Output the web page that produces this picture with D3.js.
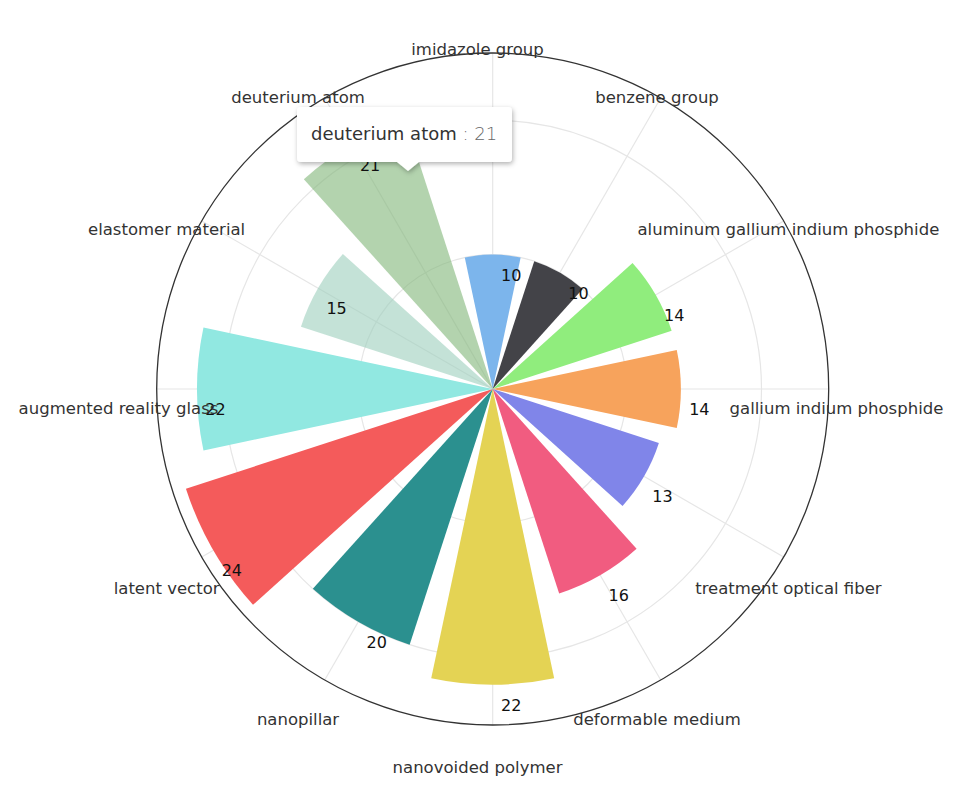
<!DOCTYPE html>
<html>
<head>
<meta charset="utf-8">
<script src="https://cdn.jsdelivr.net/npm/d3@7"></script>
<style>
  html, body { margin: 0; padding: 0; background: #fff; }
  svg { display: block; font-family: "DejaVu Sans", sans-serif; }
</style>
</head>
<body>
<svg id="chart" width="975" height="804"></svg>
<script>
const categories = [
  "imidazole group", "benzene group", "aluminum gallium indium phosphide",
  "gallium indium phosphide", "treatment optical fiber", "deformable medium",
  "nanovoided polymer", "nanopillar", "latent vector",
  "augmented reality glass", "elastomer material", "deuterium atom"
];
const values = [10, 10, 14, 14, 13, 16, 22, 20, 24, 22, 15, 21];
const colors = [
  "#7cb5ec", "#434348", "#90ed7d", "#f7a35c", "#8085e9", "#f15c80",
  "#e4d354", "#2b908f", "#f45b5b", "#91e8e1", "#9dcfbc", "#80b678"
];
const opacities = [1, 1, 1, 1, 1, 1, 1, 1, 1, 1, 0.6, 0.6];
const radialTicks = [10, 20];
const radialMax = 25;
const tooltipIndex = 11;

const svg = d3.select("#chart");
const cx = 492.7, cy = 389, R = 336;
const g = svg.append("g").attr("transform", `translate(${cx},${cy})`);

const angle = d3.scaleBand().domain(categories).range([0, 2 * Math.PI]);
const step = angle.step();
const theta = c => angle(c); // categories centered on their own axis line
const r = d3.scaleLinear().domain([0, radialMax]).range([0, R]);

// grid circles
g.selectAll("circle.grid").data(radialTicks).join("circle")
  .attr("class", "grid").attr("r", d => r(d))
  .attr("fill", "none").attr("stroke", "#e6e6e6").attr("stroke-width", 1.2);

// radial split lines
g.selectAll("line.split").data(categories).join("line")
  .attr("class", "split")
  .attr("x1", 0).attr("y1", 0)
  .attr("x2", d => R * Math.sin(theta(d)))
  .attr("y2", d => -R * Math.cos(theta(d)))
  .attr("stroke", "#e6e6e6").attr("stroke-width", 1.2);

// bars
const half = step * 0.4;
const arc = d3.arc().innerRadius(0);
g.selectAll("path.bar").data(categories).join("path")
  .attr("class", "bar")
  .attr("d", (d, i) => arc({outerRadius: r(values[i]), startAngle: theta(d) - half, endAngle: theta(d) + half}))
  .attr("fill", (d, i) => colors[i])
  .attr("fill-opacity", (d, i) => opacities[i]);

// outer axis line
g.append("circle").attr("r", R).attr("fill", "none")
  .attr("stroke", "#333").attr("stroke-width", 1.3);

// data labels
g.selectAll("text.val").data(categories).join("text")
  .attr("class", "val")
  .attr("x", (d, i) => r(values[i]) * Math.sin(theta(d)) + 18.5)
  .attr("y", (d, i) => -r(values[i]) * Math.cos(theta(d)) + 26)
  .attr("text-anchor", "middle")
  .attr("font-size", 16).attr("fill", "#111")
  .text((d, i) => values[i]);

// category labels
const lcx = 477.5 - cx, lcy = 414 - cy, LR = 359;
g.selectAll("text.cat").data(categories).join("text")
  .attr("class", "cat")
  .attr("x", d => lcx + LR * Math.sin(theta(d)))
  .attr("y", d => lcy - LR * Math.cos(theta(d)))
  .attr("text-anchor", "middle")
  .attr("font-size", 16.5).attr("fill", "#333")
  .text(d => d);

// tooltip
const defs = svg.append("defs");
const f = defs.append("filter").attr("id", "shadow").attr("x", "-20%").attr("y", "-30%").attr("width", "140%").attr("height", "170%");
f.append("feDropShadow").attr("dx", 1).attr("dy", 2).attr("stdDeviation", 2.5).attr("flood-color", "#000").attr("flood-opacity", 0.3);
const tt = svg.append("g").attr("filter", "url(#shadow)");
tt.append("path")
  .attr("d", "M301,107 H508 Q512,107 512,111 V158 Q512,162 508,162 H419 L408,171 L397,162 H301 Q297,162 297,158 V111 Q297,107 301,107 Z")
  .attr("fill", "#fff");
const ttext = svg.append("text").attr("x", 311).attr("y", 140).attr("font-size", 18);
ttext.append("tspan").attr("fill", "#333").text(categories[tooltipIndex]);
ttext.append("tspan").attr("fill", "#666").attr("font-weight", 300).text(" : " + values[tooltipIndex]);
</script>
</body>
</html>
